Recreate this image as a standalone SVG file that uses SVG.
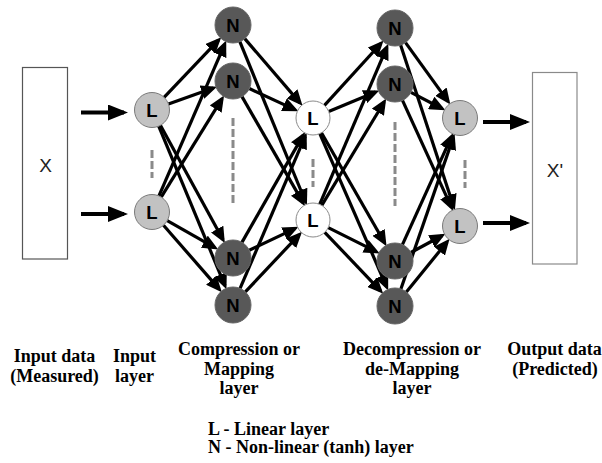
<svg xmlns="http://www.w3.org/2000/svg" width="602" height="463" viewBox="0 0 602 463">
<style>
.box{fill:#fff;stroke:#555;stroke-width:1.2}
.box2{fill:#fff;stroke:#8a8a8a;stroke-width:1.2}
.lg{fill:#c2c2c2;stroke:#7a7a7a;stroke-width:1}
.lw{fill:#fff;stroke:#8a8a8a;stroke-width:1}
.nd{fill:#585858;stroke:#666;stroke-width:1}
.nl{font-family:"Liberation Sans",Arial,sans-serif;font-weight:bold;font-size:18.5px;fill:#000;text-anchor:middle}
.bx{font-family:"Liberation Sans",Arial,sans-serif;font-size:19px;fill:#222;text-anchor:middle}
.lab{font-family:"Liberation Serif","Times New Roman",serif;font-weight:bold;font-size:18px;fill:#000;text-anchor:middle}
.leg{font-family:"Liberation Serif","Times New Roman",serif;font-weight:bold;font-size:18px;fill:#000}
.dash{stroke:#8a8a8a;stroke-width:3;stroke-dasharray:8 3;fill:none}
.c line{stroke:#000;stroke-width:3.2;marker-end:url(#ah)}
.c line.big{stroke-width:4;marker-end:url(#ahb)}
</style>
<defs>
<marker id="ah" markerUnits="userSpaceOnUse" viewBox="0 0 16 14" markerWidth="16" markerHeight="14" refX="12" refY="7" orient="auto"><path d="M0,0 L16,7 L0,14 z" fill="#000"/></marker>
<marker id="ahb" markerUnits="userSpaceOnUse" viewBox="0 0 20 16" markerWidth="20" markerHeight="16" refX="16" refY="8" orient="auto"><path d="M0,0 L20,8 L0,16 z" fill="#000"/></marker>
</defs>
<g id="input-box"><rect class="box" x="22.5" y="67.5" width="45" height="191.5"/><text class="bx" x="45.5" y="172">X</text></g>
<g id="output-box"><rect class="box2" x="532.5" y="72.5" width="44.5" height="191.5"/><text class="bx" x="555" y="177">X'</text></g>
<g id="dashes">
<line class="dash" x1="152" y1="150" x2="152" y2="178"/>
<line class="dash" x1="233" y1="118" x2="233" y2="206"/>
<line class="dash" x1="313" y1="159" x2="313" y2="187"/>
<line class="dash" x1="395" y1="122" x2="395" y2="206"/>
<line class="dash" x1="465" y1="160" x2="465" y2="188"/>
</g>
<g id="connectors" class="c">
<line class="big" x1="81" y1="112.5" x2="124" y2="112.5"/>
<line class="big" x1="81" y1="214" x2="124" y2="214"/>
<line class="big" x1="483" y1="122" x2="526" y2="122"/>
<line class="big" x1="483" y1="223" x2="526" y2="223"/>
<line x1="164.07" y1="97.33" x2="218.51" y2="40.20"/>
<line x1="168.48" y1="104.10" x2="213.23" y2="88.08"/>
<line x1="160.40" y1="125.35" x2="222.92" y2="239.58"/>
<line x1="158.71" y1="126.16" x2="224.94" y2="285.61"/>
<line x1="158.96" y1="195.94" x2="224.65" y2="44.27"/>
<line x1="161.20" y1="197.12" x2="221.96" y2="98.86"/>
<line x1="167.22" y1="220.64" x2="214.74" y2="247.63"/>
<line x1="163.49" y1="225.20" x2="219.21" y2="289.16"/>
<line x1="244.74" y1="38.65" x2="299.96" y2="102.84"/>
<line x1="239.83" y1="41.65" x2="305.41" y2="201.50"/>
<line x1="249.34" y1="88.56" x2="294.85" y2="109.60"/>
<line x1="241.98" y1="96.60" x2="303.02" y2="202.67"/>
<line x1="241.93" y1="242.37" x2="303.08" y2="135.36"/>
<line x1="249.26" y1="250.28" x2="294.93" y2="228.58"/>
<line x1="240.08" y1="288.45" x2="305.13" y2="136.39"/>
<line x1="245.34" y1="291.89" x2="299.29" y2="234.56"/>
<line x1="324.45" y1="105.43" x2="380.86" y2="43.52"/>
<line x1="328.70" y1="111.49" x2="375.60" y2="92.04"/>
<line x1="321.46" y1="132.75" x2="384.55" y2="242.78"/>
<line x1="319.80" y1="133.58" x2="386.60" y2="286.75"/>
<line x1="319.68" y1="204.37" x2="386.75" y2="47.31"/>
<line x1="321.78" y1="205.44" x2="384.16" y2="101.98"/>
<line x1="328.20" y1="227.60" x2="376.22" y2="251.61"/>
<line x1="324.73" y1="232.30" x2="380.51" y2="290.80"/>
<line x1="405.54" y1="42.59" x2="448.00" y2="101.38"/>
<line x1="400.61" y1="45.10" x2="453.61" y2="206.52"/>
<line x1="410.95" y1="92.34" x2="441.83" y2="108.50"/>
<line x1="402.49" y1="100.37" x2="451.47" y2="207.36"/>
<line x1="402.45" y1="244.61" x2="451.52" y2="136.66"/>
<line x1="410.85" y1="252.47" x2="441.95" y2="235.72"/>
<line x1="400.88" y1="288.99" x2="453.30" y2="137.37"/>
<line x1="406.35" y1="292.03" x2="447.07" y2="241.91"/>
</g>
<g id="in-L1"><circle class="lg" cx="152" cy="110" r="17.5"/><text class="nl" x="152" y="116.5">L</text></g>
<g id="in-L2"><circle class="lg" cx="152" cy="212" r="17.5"/><text class="nl" x="152" y="218.5">L</text></g>
<g id="comp-N1"><circle class="nd" cx="233" cy="25" r="18"/><text class="nl" x="233" y="31.5">N</text></g>
<g id="comp-N2"><circle class="nd" cx="233" cy="81" r="18"/><text class="nl" x="233" y="87.5">N</text></g>
<g id="comp-N3"><circle class="nd" cx="233" cy="258" r="18"/><text class="nl" x="233" y="264.5">N</text></g>
<g id="comp-N4"><circle class="nd" cx="233" cy="305" r="18"/><text class="nl" x="233" y="311.5">N</text></g>
<g id="mid-L1"><circle class="lw" cx="313" cy="118" r="17"/><text class="nl" x="313" y="124.5">L</text></g>
<g id="mid-L2"><circle class="lw" cx="313" cy="220" r="17"/><text class="nl" x="313" y="226.5">L</text></g>
<g id="decomp-N1"><circle class="nd" cx="395" cy="28" r="18"/><text class="nl" x="395" y="34.5">N</text></g>
<g id="decomp-N2"><circle class="nd" cx="395" cy="84" r="18"/><text class="nl" x="395" y="90.5">N</text></g>
<g id="decomp-N3"><circle class="nd" cx="395" cy="261" r="18"/><text class="nl" x="395" y="267.5">N</text></g>
<g id="decomp-N4"><circle class="nd" cx="395" cy="306" r="18"/><text class="nl" x="395" y="312.5">N</text></g>
<g id="out-L1"><circle class="lg" cx="460" cy="118" r="17.5"/><text class="nl" x="460" y="124.5">L</text></g>
<g id="out-L2"><circle class="lg" cx="460" cy="226" r="17.5"/><text class="nl" x="460" y="232.5">L</text></g>
<g id="labels">
<text class="lab" x="54.5" y="362">Input data</text>
<text class="lab" x="54.5" y="382">(Measured)</text>
<text class="lab" x="134.5" y="362">Input</text>
<text class="lab" x="134.5" y="382">layer</text>
<text class="lab" x="239" y="355">Compression or</text>
<text class="lab" x="239" y="374.5">Mapping</text>
<text class="lab" x="239" y="394">layer</text>
<text class="lab" x="412" y="355">Decompression or</text>
<text class="lab" x="412" y="374.5">de-Mapping</text>
<text class="lab" x="412" y="394">layer</text>
<text class="lab" x="554.5" y="355">Output data</text>
<text class="lab" x="555" y="374.5">(Predicted)</text>
<text class="leg" x="208" y="435">L - Linear layer</text>
<text class="leg" x="208" y="453">N - Non-linear (tanh) layer</text>
</g>
</svg>
